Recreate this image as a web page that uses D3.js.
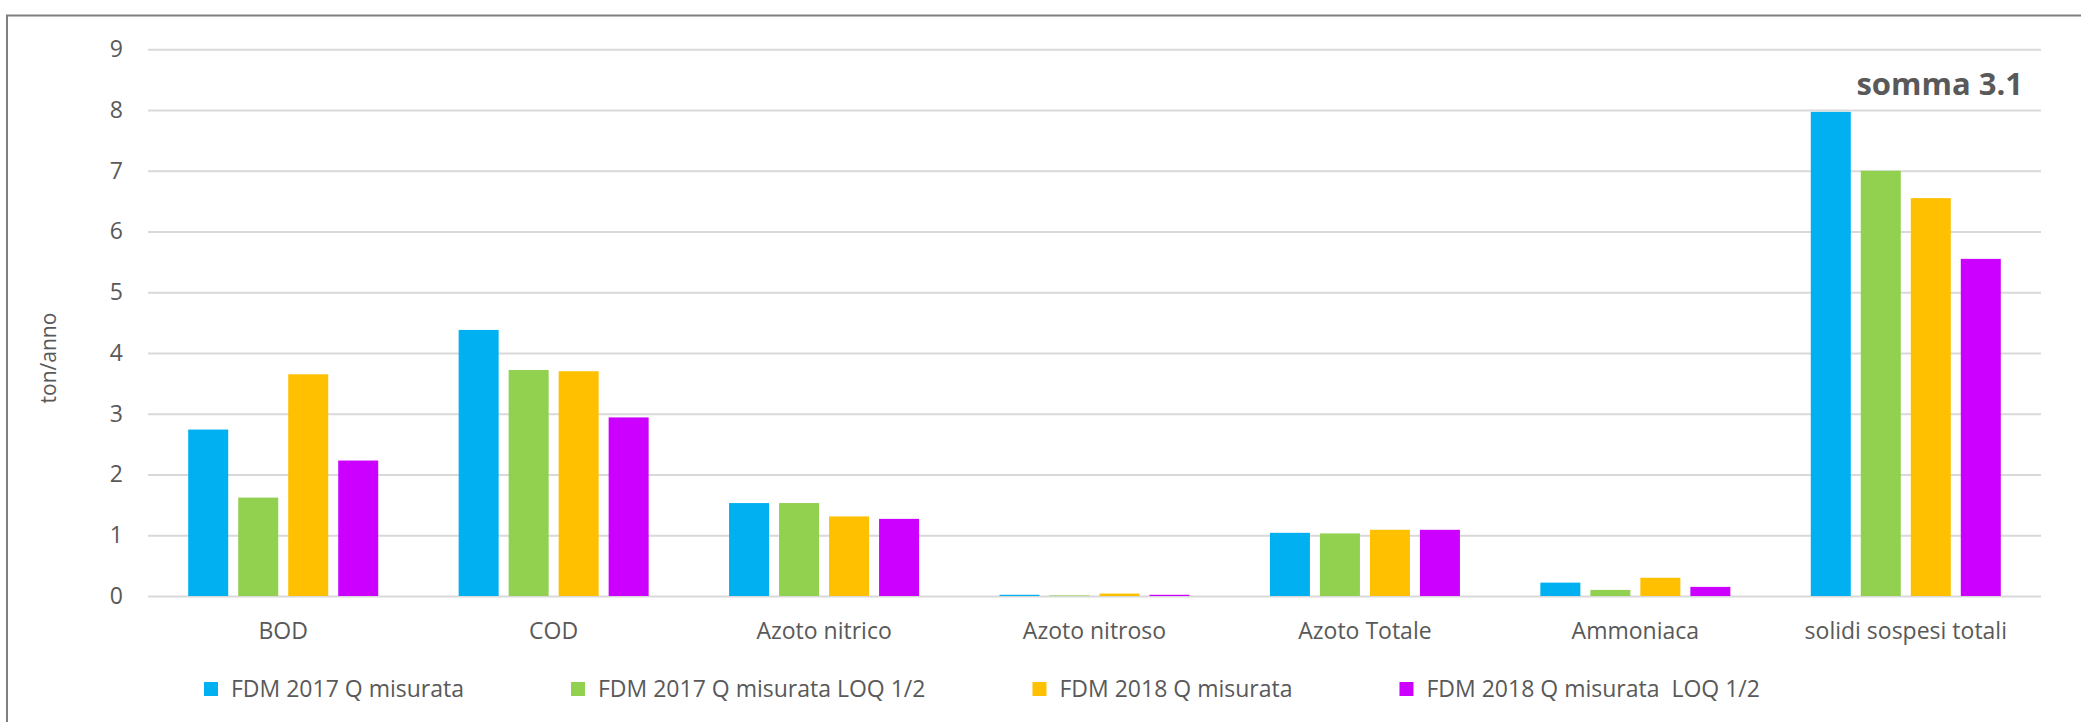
<!DOCTYPE html>
<html>
<head>
<meta charset="utf-8">
<script src="https://cdn.jsdelivr.net/npm/d3@7"></script>
<style>
  body { margin: 0; background: #fff; }
  svg { display: block; }
  svg text { font-family: "Open Sans", sans-serif; }
</style>
</head>
<body>
<div id="chart"></div>
<script>
// values (ton/anno)
var categories = ["BOD", "COD", "Azoto nitrico", "Azoto nitroso", "Azoto Totale", "Ammoniaca", "solidi sospesi totali"];
var seriesNames = ["FDM 2017 Q misurata", "FDM 2017 Q misurata LOQ 1/2", "FDM 2018 Q misurata", "FDM 2018 Q misurata  LOQ 1/2"];
var fdm2017 = [2.74, 4.38, 1.53, 0.02, 1.04, 0.22, 7.97];
var fdm2017Loq = [1.62, 3.72, 1.53, 0.01, 1.03, 0.10, 7.00];
var fdm2018 = [3.65, 3.70, 1.31, 0.04, 1.09, 0.30, 6.55];
var fdm2018Loq = [2.23, 2.94, 1.27, 0.02, 1.09, 0.15, 5.55];
var yTicks = [0, 1, 2, 3, 4, 5, 6, 7, 8, 9];
var colors = ["#00b0f0", "#92d050", "#ffc000", "#cc00ff"];
var yLabel = "ton/anno";
var note = "somma 3.1";

var seriesValues = [fdm2017, fdm2017Loq, fdm2018, fdm2018Loq];

var w = 2081, h = 722;
var plotLeft = 148, plotRight = 2041, plotTop = 49.3, plotBottom = 596;
var textColor = "#595959";

var svg = d3.select("#chart").append("svg")
  .attr("width", w)
  .attr("height", h);

// outer chart border (cut off at right / bottom like the picture)
svg.append("rect")
  .attr("x", 7).attr("y", 15.5)
  .attr("width", 2200).attr("height", 900)
  .attr("fill", "none")
  .attr("stroke", "#7f7f7f")
  .attr("stroke-width", 2);

var x0 = d3.scaleBand()
  .domain(categories)
  .range([plotLeft, plotRight])
  .paddingInner(0.2604)
  .paddingOuter(0.1302);

var x1 = d3.scaleBand()
  .domain(d3.range(seriesNames.length))
  .range([0, x0.bandwidth()])
  .paddingInner(0.2)
  .paddingOuter(0.1);

var y = d3.scaleLinear()
  .domain([0, 9])
  .range([plotBottom, plotTop]);

// y axis + gridlines
var yAxis = svg.append("g")
  .attr("transform", "translate(" + plotLeft + ",0)")
  .call(d3.axisLeft(y).tickValues(yTicks).tickSize(-(plotRight - plotLeft)).tickPadding(25));
yAxis.attr("font-family", null);
yAxis.select(".domain").remove();
yAxis.selectAll("line").attr("stroke", "#d9d9d9").attr("stroke-width", 2);
yAxis.selectAll("text")
  .attr("fill", textColor)
  .style("font-size", "23px");

// x axis labels
var xAxis = svg.append("g")
  .attr("transform", "translate(0," + plotBottom + ")")
  .call(d3.axisBottom(x0).tickSize(0).tickPadding(27));
xAxis.attr("font-family", null);
xAxis.select(".domain").remove();
xAxis.selectAll("text")
  .attr("fill", textColor)
  .style("font-size", "23px");

// bars
var groups = svg.selectAll("g.cat")
  .data(categories)
  .enter().append("g")
  .attr("class", "cat")
  .attr("transform", function(d) { return "translate(" + x0(d) + ",0)"; });

groups.selectAll("rect")
  .data(function(d, i) {
    return seriesValues.map(function(s, k) { return {k: k, v: s[i]}; });
  })
  .enter().append("rect")
  .attr("x", function(d) { return x1(d.k); })
  .attr("y", function(d) { return y(d.v); })
  .attr("width", x1.bandwidth())
  .attr("height", function(d) { return y(0) - y(d.v); })
  .attr("fill", function(d) { return colors[d.k]; });

// y axis title
svg.append("text")
  .attr("transform", "translate(56,358) rotate(-90)")
  .attr("text-anchor", "middle")
  .attr("fill", textColor)
  .style("font-size", "21px")
  .text(yLabel);

// annotation
svg.append("text")
  .attr("x", 2023)
  .attr("y", 95)
  .attr("text-anchor", "end")
  .attr("fill", textColor)
  .style("font-size", "31px")
  .style("font-weight", "bold")
  .text(note);

// legend
var legend = svg.append("g").attr("class", "legend");
var lx = 204, ly = 689;
seriesNames.forEach(function(name, k) {
  legend.append("rect")
    .attr("x", lx).attr("y", ly - 7)
    .attr("width", 14).attr("height", 14)
    .attr("fill", colors[k]);
  var t = legend.append("text")
    .attr("x", lx + 27).attr("y", ly)
    .attr("dy", "0.35em")
    .attr("fill", textColor)
    .style("font-size", "23px")
    .style("white-space", "pre")
    .text(name);
  lx += 27 + t.node().getComputedTextLength() + 107;
});
</script>
</body>
</html>
